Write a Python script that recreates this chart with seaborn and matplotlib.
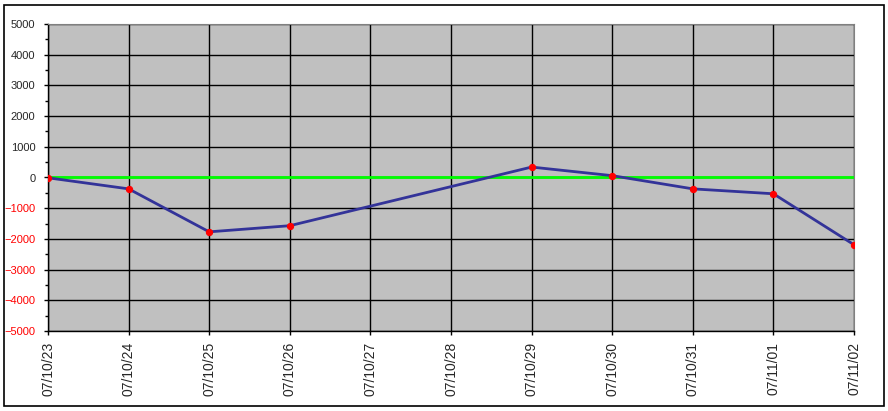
# Line chart of daily values, with a zero reference line.
import pandas as pd
import matplotlib
matplotlib.use("Agg")
import matplotlib.pyplot as plt
import seaborn as sns
from matplotlib.patches import Rectangle
from matplotlib.ticker import MultipleLocator

# Data (no entries for 10/27 and 10/28).
dates = ["2007-10-23", "2007-10-24", "2007-10-25", "2007-10-26", "2007-10-29",
         "2007-10-30", "2007-10-31", "2007-11-01", "2007-11-02"]
values = [-10, -370, -1770, -1570, 340, 60, -370, -530, -2190]

tick_dates = pd.date_range("2007-10-23", "2007-11-02", freq="D")
tick_labels = [d.strftime("%y/%m/%d") for d in tick_dates]
y_ticks = list(range(-5000, 5001, 1000))

df = pd.DataFrame({"date": pd.to_datetime(dates), "value": values})

sns.set_style("white")
plt.rcParams["font.family"] = ["Liberation Sans", "DejaVu Sans"]

fig = plt.figure(figsize=(8.88, 4.11), dpi=100)
ax = fig.add_axes([48 / 888, 80 / 411, 806 / 888, 307 / 411])
ax.set_facecolor("#c0c0c0")

# zero line
ax.axhline(0, color="#00ff00", lw=2, zorder=2)

sns.lineplot(data=df, x="date", y="value", ax=ax, color="#333399", lw=2,
             marker="o", markersize=4.5, markerfacecolor="red",
             markeredgecolor="red", zorder=3)

ax.set_xlim(tick_dates[0], tick_dates[-1])
ax.set_ylim(-5000, 5000)
ax.set_xticks(tick_dates)
ax.set_xticklabels(tick_labels, rotation=90, fontsize=10)
ax.set_yticks(y_ticks)
ax.set_yticklabels([str(v).replace("-", "\u2212") for v in y_ticks], fontsize=8)
for lab, v in zip(ax.get_yticklabels(), y_ticks):
    if v < 0:
        lab.set_color("red")
ax.yaxis.set_minor_locator(MultipleLocator(500))
ax.tick_params(axis="both", which="both", direction="out", length=3,
               width=1, color="black", left=True, bottom=True)
ax.tick_params(axis="y", which="major", pad=6)
ax.tick_params(axis="y", which="minor", length=2.5)
ax.tick_params(axis="x", pad=5)
ax.grid(True, color="black", lw=1, which="major")
ax.set_axisbelow(True)
ax.set_xlabel("")
ax.set_ylabel("")
for side in ["top", "right"]:
    ax.spines[side].set_color("#808080")
    ax.spines[side].set_linewidth(0.8)
for side in ["left", "bottom"]:
    ax.spines[side].set_color("black")
    ax.spines[side].set_linewidth(1)

# outer frame round the whole chart
fig.patches.append(Rectangle((4 / 888, 5 / 411), 880 / 888, 401 / 411,
                             transform=fig.transFigure, fill=False,
                             edgecolor="black", lw=1.2))

fig.savefig("out.png", dpi=100)
